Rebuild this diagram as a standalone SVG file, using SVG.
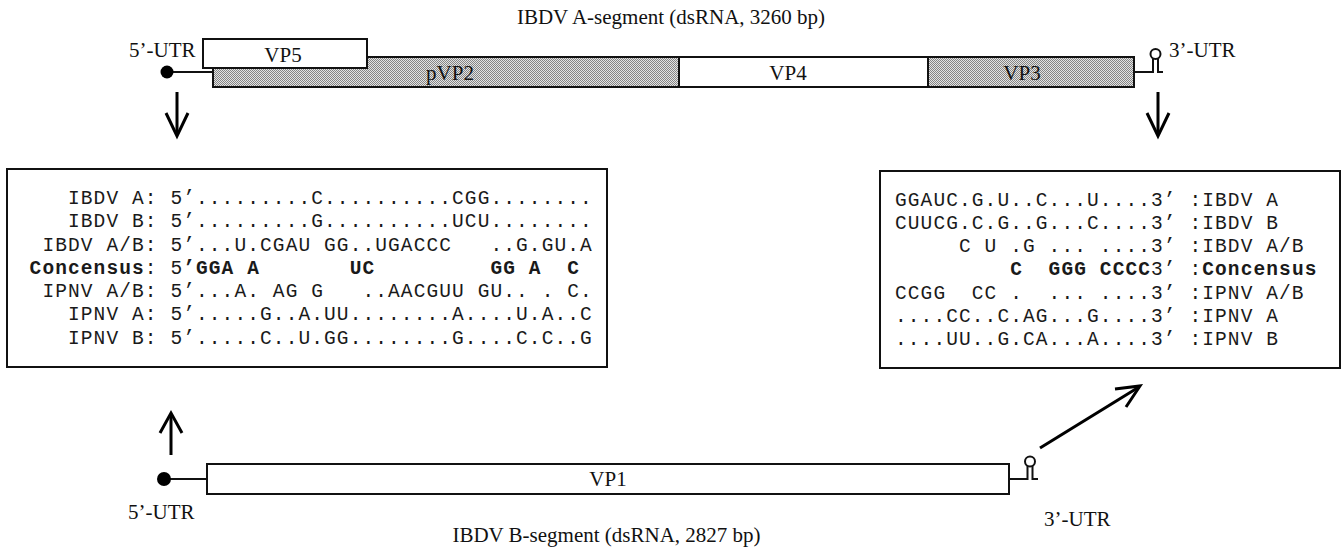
<svg xmlns="http://www.w3.org/2000/svg" width="1342" height="550" viewBox="0 0 1342 550">
  <defs>
    <!-- fine stipple used for the shaded coding regions -->
    <pattern id="stipple" width="2" height="2" patternUnits="userSpaceOnUse">
      <rect width="2" height="2" fill="#e4e4e4"/>
      <rect width="1" height="1" fill="#858585"/>
      <rect x="1" y="1" width="1" height="1" fill="#858585"/>
    </pattern>
  </defs>
  <style>
    .lbl{font-family:"Liberation Serif","Times New Roman",serif;font-size:21px;fill:#111}
    .mid{text-anchor:middle}
    .box{stroke:#111;stroke-width:2}
    .seq{font-family:"Liberation Mono","Courier New",monospace;font-size:19.5px;letter-spacing:1.1px;fill:#1a1a1a;white-space:pre}
    .b{font-weight:bold}
    .arrow{fill:none;stroke:#000;stroke-width:3}
    .thin{fill:none;stroke:#111;stroke-width:2}
    .loop{fill:#fff;stroke:#111;stroke-width:2}
  </style>

  <rect width="1342" height="550" fill="#fff"/>

  <!-- A-segment -->
  <text class="lbl mid" x="671" y="24">IBDV A-segment (dsRNA, 3260 bp)</text>

  <g id="segA-5utr">
    <line class="thin" x1="167" y1="72" x2="213" y2="72"/>
    <circle cx="167" cy="72" r="6.5" fill="#000"/>
    <text class="lbl" x="129" y="57">5’-UTR</text>
  </g>
  <g id="pVP2">
    <rect class="box" x="213" y="57" width="466" height="30" fill="url(#stipple)"/>
    <text class="lbl mid" x="450" y="80">pVP2</text>
  </g>
  <g id="VP4">
    <rect class="box" x="679" y="57" width="249" height="30" fill="#fff"/>
    <text class="lbl mid" x="788" y="80">VP4</text>
  </g>
  <g id="VP3">
    <rect class="box" x="928" y="57" width="206" height="30" fill="url(#stipple)"/>
    <text class="lbl mid" x="1022" y="80">VP3</text>
  </g>
  <g id="VP5">
    <rect class="box" x="203" y="39" width="164" height="29" fill="#fff"/>
    <text class="lbl mid" x="283" y="62">VP5</text>
  </g>
  <g id="segA-3utr">
    <path class="thin" d="M1134,72 H1153 V58.5 M1158,58.5 V72 H1163"/>
    <circle class="loop" cx="1155.5" cy="54" r="5"/>
    <text class="lbl" x="1169" y="57">3’-UTR</text>
  </g>

  <!-- 5' terminal alignment -->
  <g id="align5">
    <rect class="box" x="7" y="169" width="600" height="198" fill="#fff"/>
    <text class="seq" xml:space="preserve" x="29.6" y="204">   IBDV A: 5’.........C..........CGG........</text>
    <text class="seq" xml:space="preserve" x="29.6" y="227.3">   IBDV B: 5’.........G..........UCU........</text>
    <text class="seq" xml:space="preserve" x="29.6" y="250.5"> IBDV A/B: 5’...U.CGAU GG..UGACCC   ..G.GU.A</text>
    <text class="seq" xml:space="preserve" x="29.6" y="273.8"><tspan class="b">Concensus</tspan>: 5<tspan class="b">’GGA A       UC         GG A  C</tspan></text>
    <text class="seq" xml:space="preserve" x="29.6" y="297"> IPNV A/B: 5’...A. AG G   ..AACGUU GU.. . C.</text>
    <text class="seq" xml:space="preserve" x="29.6" y="320.3">   IPNV A: 5’.....G..A.UU........A....U.A..C</text>
    <text class="seq" xml:space="preserve" x="29.6" y="343.5">   IPNV B: 5’.....C..U.GG........G....C.C..G</text>
  </g>

  <!-- 3' terminal alignment -->
  <g id="align3">
    <rect class="box" x="880" y="171" width="460" height="197" fill="#fff"/>
    <text class="seq" xml:space="preserve" x="895" y="205.5">GGAUC.G.U..C...U....3’ :IBDV A</text>
    <text class="seq" xml:space="preserve" x="895" y="228.8">CUUCG.C.G..G...C....3’ :IBDV B</text>
    <text class="seq" xml:space="preserve" x="895" y="252.1">     C U .G ... ....3’ :IBDV A/B</text>
    <text class="seq" xml:space="preserve" x="895" y="275.4">         <tspan class="b">C  GGG CCCC</tspan>3’ :<tspan class="b">Concensus</tspan></text>
    <text class="seq" xml:space="preserve" x="895" y="298.7">CCGG  CC .  ... ....3’ :IPNV A/B</text>
    <text class="seq" xml:space="preserve" x="895" y="322">....CC..C.AG...G....3’ :IPNV A</text>
    <text class="seq" xml:space="preserve" x="895" y="345.3">....UU..G.CA...A....3’ :IPNV B</text>
  </g>

  <!-- B-segment -->
  <g id="segB-5utr">
    <line class="thin" x1="164" y1="479" x2="207" y2="479"/>
    <circle cx="164" cy="479" r="7" fill="#000"/>
    <text class="lbl" x="128" y="519">5’-UTR</text>
  </g>
  <g id="VP1">
    <rect class="box" x="207" y="464" width="802" height="30" fill="#fff"/>
    <text class="lbl mid" x="608" y="486">VP1</text>
  </g>
  <g id="segB-3utr">
    <path class="thin" d="M1009,479 H1027.5 V466 M1032.5,466 V479 H1038"/>
    <circle class="loop" cx="1030" cy="461.5" r="5"/>
    <text class="lbl" x="1044" y="526">3’-UTR</text>
  </g>
  <text class="lbl mid" x="606.5" y="542">IBDV B-segment (dsRNA, 2827 bp)</text>

  <!-- connectors -->
  <g id="connectors">
    <line class="arrow" x1="177" y1="92" x2="177" y2="135"/>
    <polyline class="arrow" points="166,113 177,136 188,113"/>
    <line class="arrow" x1="1158" y1="92" x2="1158" y2="135"/>
    <polyline class="arrow" points="1147,113 1158,136 1169,113"/>
    <line class="arrow" x1="171" y1="455" x2="171" y2="414"/>
    <polyline class="arrow" points="160,433 171,413 182,433"/>
    <line class="arrow" x1="1040" y1="448" x2="1139" y2="387"/>
    <polyline class="arrow" points="1115,389 1140,386 1126,407"/>
  </g>
</svg>
